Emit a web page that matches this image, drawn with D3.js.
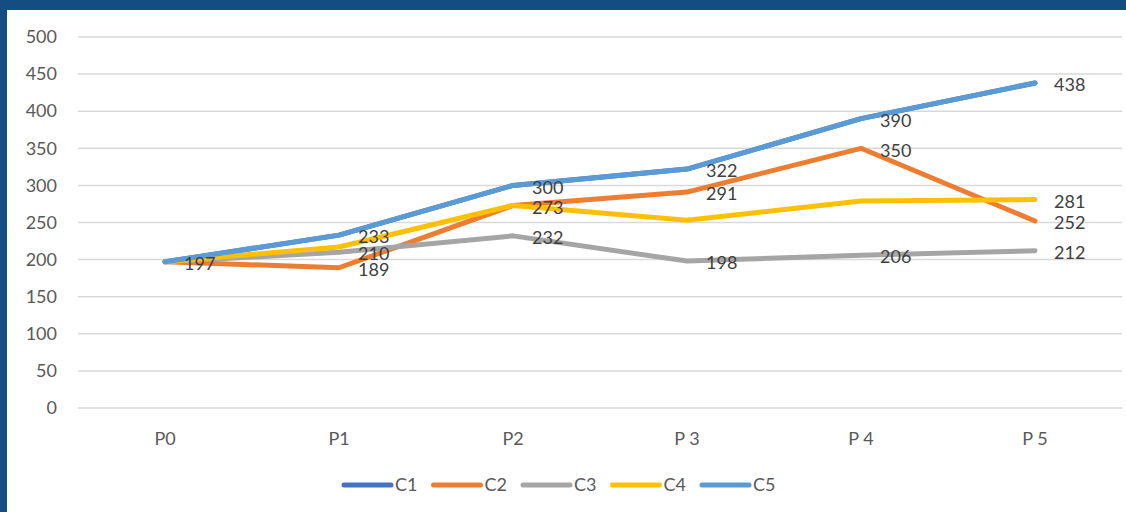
<!DOCTYPE html>
<html>
<head>
<meta charset="utf-8">
<script src="https://cdn.jsdelivr.net/npm/d3@7"></script>
<style>
  body { margin: 0; background: #134d82; }
  #chart { position: absolute; left: 7px; top: 10px; width: 1119px; height: 502px; background: #fff; }
  svg { display: block; }
</style>
</head>
<body>
<div id="chart"></div>
<script>
// periods and series values
const periods = ['P0', 'P1', 'P2', 'P 3', 'P 4', 'P 5'];
const seriesNames = ['C1', 'C2', 'C3', 'C4', 'C5'];
const c1Values = [197, 233, 300, 322, 390, 438];
const c2Values = [197, 189, 273, 291, 350, 252];
const c3Values = [197, 210, 232, 198, 206, 212];
const c4Values = [197, 217, 273, 253, 279, 281];
const c5Values = [197, 233, 300, 322, 390, 438];
// data labels that are visible in the picture (null = not shown)
const c2Labels = [null, 189, null, 291, 350, 252];
const c3Labels = [null, 210, 232, 198, 206, 212];
const c4Labels = [null, null, 273, null, null, 281];
const c5Labels = [197, 233, 300, 322, 390, 438];
const yTicks = [0, 50, 100, 150, 200, 250, 300, 350, 400, 450, 500];

document.addEventListener('DOMContentLoaded', function() {
    const colors = {
        C1: '#4472C4',
        C2: '#ED7D31',
        C3: '#A5A5A5',
        C4: '#FFC000',
        C5: '#5B9BD5'
    };

    const series = [
        {name: 'C1', values: c1Values, labels: null},
        {name: 'C2', values: c2Values, labels: c2Labels},
        {name: 'C3', values: c3Values, labels: c3Labels},
        {name: 'C4', values: c4Values, labels: c4Labels},
        {name: 'C5', values: c5Values, labels: c5Labels}
    ];

    const totalW = 1119, totalH = 502;
    const margin = {top: 27, left: 71, right: 4};
    const plotW = totalW - margin.left - margin.right;
    const plotH = 371;
    const font = 'Lato, "Open Sans", sans-serif';

    const svg = d3.select('#chart')
        .append('svg')
        .attr('width', totalW)
        .attr('height', totalH);

    const g = svg.append('g')
        .attr('transform', `translate(${margin.left},${margin.top})`);

    const x = d3.scaleBand()
        .domain(periods)
        .range([0, plotW]);

    const y = d3.scaleLinear()
        .domain([0, 500])
        .range([plotH, 0]);

    // gridlines
    g.append('g')
        .selectAll('line')
        .data(yTicks)
        .enter()
        .append('line')
        .attr('x1', 0)
        .attr('x2', plotW)
        .attr('y1', d => y(d))
        .attr('y2', d => y(d))
        .attr('stroke', '#d9d9d9')
        .attr('stroke-width', 1.5);

    // y axis
    const yAxis = g.append('g')
        .call(d3.axisLeft(y).tickValues(yTicks).tickSize(0).tickPadding(21));
    yAxis.select('.domain').remove();
    yAxis.selectAll('text')
        .style('font-family', font)
        .style('font-size', '18px')
        .attr('fill', '#595959');

    // x axis
    const xAxis = g.append('g')
        .attr('transform', `translate(0,${plotH})`)
        .call(d3.axisBottom(x).tickSize(0).tickPadding(24));
    xAxis.select('.domain').remove();
    xAxis.selectAll('text')
        .style('font-family', font)
        .style('font-size', '18px')
        .attr('fill', '#595959');

    const cx = p => x(p) + x.bandwidth() / 2;

    const line = d3.line()
        .x((d, i) => cx(periods[i]))
        .y(d => y(d));

    series.forEach(s => {
        g.append('path')
            .datum(s.values)
            .attr('fill', 'none')
            .attr('stroke', colors[s.name])
            .attr('stroke-width', 5)
            .attr('stroke-linejoin', 'round')
            .attr('stroke-linecap', 'round')
            .attr('d', line);
    });

    // data labels on top
    series.forEach(s => {
        if (!s.labels) return;
        g.append('g')
            .selectAll('text')
            .data(s.labels.map((v, i) => ({v, i})).filter(d => d.v !== null))
            .enter()
            .append('text')
            .attr('x', d => cx(periods[d.i]) + 19)
            .attr('y', d => y(s.values[d.i]) + 2)
            .attr('dy', '0.35em')
            .style('font-family', font)
            .style('font-size', '18px')
            .attr('fill', '#404040')
            .text(d => d.v);
    });

    // legend
    const legend = svg.append('g')
        .attr('transform', 'translate(337,475)');
    seriesNames.forEach((name, i) => {
        const item = legend.append('g')
            .attr('transform', `translate(${i * 89.5},0)`);
        item.append('line')
            .attr('x1', 0).attr('x2', 47)
            .attr('y1', 0).attr('y2', 0)
            .attr('stroke', colors[name])
            .attr('stroke-width', 5)
            .attr('stroke-linecap', 'round');
        item.append('text')
            .attr('x', 51)
            .attr('y', 0)
            .attr('dy', '0.35em')
            .style('font-family', font)
            .style('font-size', '18px')
            .attr('fill', '#595959')
            .text(name);
    });
});
</script>
</body>
</html>
